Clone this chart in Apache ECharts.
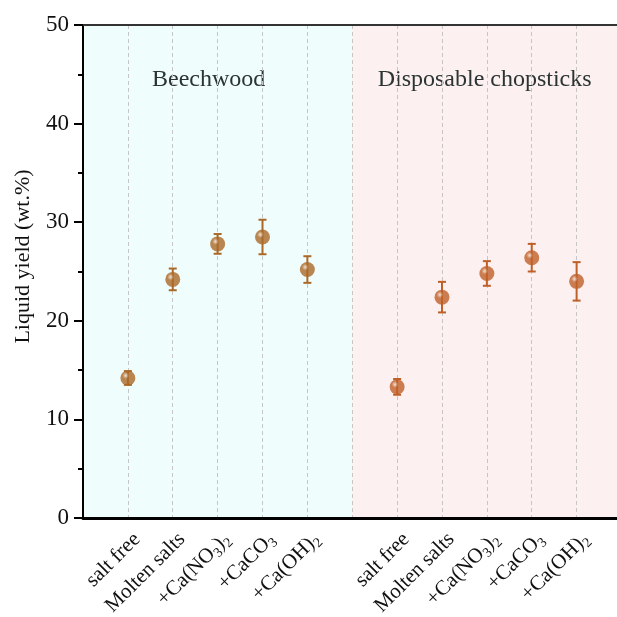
<!DOCTYPE html>
<html>
<head>
<meta charset="utf-8">
<script src="https://cdn.jsdelivr.net/npm/echarts@6/dist/echarts.min.js"></script>
<style>
    html, body { margin: 0; padding: 0; background: #fff; }
    #chart { width: 617px; height: 617px; }
</style>
</head>
<body>
<div id="chart"></div>
<script>
// 数据
var groupNames = ['Beechwood', 'Disposable chopsticks'];
var saltLabels = ['salt free', 'Molten salts', '+Ca(NO{sub|3}){sub|2}', '+CaCO{sub|3}', '+Ca(OH){sub|2}'];
var beechMean = [14.2, 24.2, 27.8, 28.5, 25.2];
var beechErr = [0.7, 1.1, 1.0, 1.75, 1.35];
var chopMean = [13.3, 22.4, 24.8, 26.4, 24.0];
var chopErr = [0.8, 1.55, 1.25, 1.4, 1.95];
var yTicks = [0, 10, 20, 30, 40, 50];

var font = 'Liberation Serif';
var beechColor = '#ab6827';
var chopColor = '#bf6029';

// x 位置: 第一组 1..5, 空一格, 第二组 7..11
var xLabels = [''].concat(saltLabels, [''], saltLabels, ['']);
var xMax = 11.9;

var toPoints = function(mean, start) {
    return mean.map(function(v, i) { return [start + i, v]; });
};
var toErr = function(mean, err, start) {
    return mean.map(function(v, i) { return [start + i, v - err[i], v + err[i]]; });
};

var ball = function(c) {
    return {
        type: 'radial', x: 0.36, y: 0.34, r: 0.72,
        colorStops: [
            { offset: 0, color: '#efdccb' },
            { offset: 0.3, color: c },
            { offset: 1, color: c }
        ]
    };
};

var renderErr = function(params, api) {
    var x = api.value(0);
    var p1 = api.coord([x, api.value(2)]);
    var p2 = api.coord([x, api.value(1)]);
    var w = 4;
    var style = { stroke: api.visual('color'), lineWidth: 2 };
    return {
        type: 'group',
        children: [
            { type: 'line', shape: { x1: p1[0], y1: p1[1], x2: p2[0], y2: p2[1] }, style: style },
            { type: 'line', shape: { x1: p1[0] - w, y1: p1[1], x2: p1[0] + w, y2: p1[1] }, style: style },
            { type: 'line', shape: { x1: p2[0] - w, y1: p2[1], x2: p2[0] + w, y2: p2[1] }, style: style }
        ]
    };
};

var chart = echarts.init(document.getElementById('chart'));
var option = {
    animation: false,
    grid: { left: 83, top: 25, bottom: 99, right: 0, outerBoundsMode: 'none' },
    xAxis: [{
        type: 'value',
        min: 0,
        max: xMax,
        interval: 1,
        axisLine: { lineStyle: { color: '#000', width: 3 } },
        axisTick: { show: false },
        splitLine: {
            show: true,
            showMinLine: false,
            showMaxLine: false,
            lineStyle: { color: '#c6c6c6', type: [4, 3], width: 1 }
        },
        axisLabel: {
            rotate: 45,
            margin: 9,
            verticalAlign: 'top',
            fontFamily: font,
            fontSize: 21,
            lineHeight: 26,
            color: '#111',
            showMaxLabel: false,
            formatter: function(v) { return xLabels[v] || ''; },
            rich: {
                sub: { fontFamily: font, fontSize: 14, lineHeight: 13, verticalAlign: 'bottom', color: '#111' }
            }
        }
    }, {
        type: 'value',
        position: 'top',
        min: 0,
        max: xMax,
        axisLine: { show: true, lineStyle: { color: '#333', width: 2 } },
        axisTick: { show: false },
        axisLabel: { show: false },
        splitLine: { show: false }
    }],
    yAxis: {
        type: 'value',
        min: yTicks[0],
        max: yTicks[yTicks.length - 1],
        interval: 10,
        name: 'Liquid yield (wt.%)',
        nameLocation: 'middle',
        nameGap: 49,
        nameTextStyle: { fontFamily: font, fontSize: 22, color: '#111', padding: [0, 0, 0, 30] },
        axisLine: { show: true, lineStyle: { color: '#000', width: 2 } },
        axisTick: { show: true, length: 9, lineStyle: { width: 2, color: '#000' } },
        minorTick: { show: true, splitNumber: 2, length: 5, lineStyle: { width: 2, color: '#000' } },
        splitLine: { show: false },
        axisLabel: { fontFamily: font, fontSize: 23, color: '#111', margin: 14 }
    },
    series: [{
        type: 'scatter',
        data: [],
        silent: true,
        z: -1,
        markArea: {
            silent: true,
            z: -1,
            label: {
                position: 'insideTop',
                distance: 43,
                fontFamily: font,
                fontSize: 24,
                color: '#2b3333'
            },
            data: [
                [{ name: groupNames[0], xAxis: 0, itemStyle: { color: '#effefd' }, label: { offset: [-9, 0] } }, { xAxis: 6 }],
                [{ name: groupNames[1], xAxis: 6, itemStyle: { color: '#fcf1f0' } }, { xAxis: xMax }]
            ]
        }
    }, {
        type: 'custom',
        renderItem: renderErr,
        itemStyle: { color: beechColor },
        data: toErr(beechMean, beechErr, 1),
        z: 3
    }, {
        type: 'custom',
        renderItem: renderErr,
        itemStyle: { color: chopColor },
        data: toErr(chopMean, chopErr, 7),
        z: 3
    }, {
        type: 'scatter',
        symbolSize: 15,
        itemStyle: { color: ball(beechColor) },
        data: toPoints(beechMean, 1),
        z: 4
    }, {
        type: 'scatter',
        symbolSize: 15,
        itemStyle: { color: ball(chopColor) },
        data: toPoints(chopMean, 7),
        z: 4
    }]
};
chart.setOption(option);
</script>
</body>
</html>
